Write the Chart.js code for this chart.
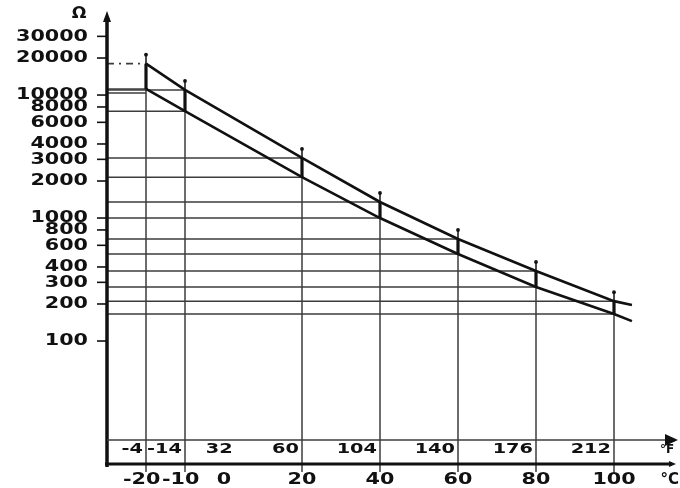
<!DOCTYPE html>
<html>
<head>
<meta charset="utf-8">
<script src="https://cdn.jsdelivr.net/npm/chart.js@4/dist/chart.umd.min.js"></script>
<style>
  html, body { margin: 0; padding: 0; background: #fff; }
  #wrap { width: 680px; height: 488px; }
</style>
</head>
<body>
<div id="wrap"><canvas id="c" width="680" height="488"></canvas></div>
<script>
// Temperature points (°C) and resistance tolerance band (Ω)
const tempC    = [-20, -10, 20, 40, 60, 80, 100];
const upperOhm = [18000, 11000, 3080, 1350, 675, 371, 211];
const lowerOhm = [11200, 7400, 2150, 1000, 510, 275, 166];
// curves run a little past the last point
const endC = 104.6;
const upperEndOhm = 196;
const lowerEndOhm = 145;
// extra reference level drawn at -20 °C
const extraLevelOhm = 10400;

// axis labels
const yTickValues = [30000, 20000, 10000, 8000, 6000, 4000, 3000, 2000, 1000, 800, 600, 400, 300, 200, 100];
const cTickLabels = [-20, -10, 0, 20, 40, 60, 80, 100];
const fTickLabels = ['-4', '-14', '32', '60', '104', '140', '176', '212'];
const fTickAnchorsC = [-20, -10, 3, 20, 40, 60, 80, 100];

const X_MIN = -30, X_MAX = 114;
const Y_MIN = 10, Y_MAX = 45600;

const INK = '#111';
const GUIDE = '#3c3c3c';
const FONT = 'bold 15px "DejaVu Sans", sans-serif';
const STRETCH = 1.38;

function seg(data, opts) {
  return Object.assign({
    data, showLine: true, borderColor: GUIDE, borderWidth: 1.5,
    pointRadius: 0, pointHoverRadius: 0, tension: 0, fill: false
  }, opts || {});
}

const datasets = [];
// band curves
datasets.push(seg(tempC.map((t, i) => ({x: t, y: upperOhm[i]})).concat([{x: endC, y: upperEndOhm}]),
  {borderColor: INK, borderWidth: 2.6}));
datasets.push(seg(tempC.map((t, i) => ({x: t, y: lowerOhm[i]})).concat([{x: endC, y: lowerEndOhm}]),
  {borderColor: INK, borderWidth: 2.6}));
// tolerance bars between the two curves
tempC.forEach((t, i) => {
  datasets.push(seg([{x: t, y: lowerOhm[i]}, {x: t, y: upperOhm[i]}], {borderColor: INK, borderWidth: 3.2}));
});
// horizontal reference lines from the Ω axis to each point
tempC.forEach((t, i) => {
  datasets.push(seg([{x: X_MIN, y: upperOhm[i]}, {x: t, y: upperOhm[i]}],
    i === 0 ? {borderDash: [7, 5, 2, 5], borderWidth: 1.6} : {}));
  datasets.push(seg([{x: X_MIN, y: lowerOhm[i]}, {x: t, y: lowerOhm[i]}]));
});
datasets.push(seg([{x: X_MIN, y: extraLevelOhm}, {x: tempC[0], y: extraLevelOhm}]));
// vertical reference lines from the temperature axis
tempC.forEach((t, i) => {
  datasets.push(seg([{x: t, y: Y_MIN}, {x: t, y: lowerOhm[i]}]));
});

function stretchText(ctx, text, x, y, align, sx) {
  ctx.save();
  ctx.translate(x, y);
  ctx.scale(sx, 1);
  ctx.textAlign = align;
  ctx.textBaseline = 'middle';
  ctx.fillText(text, 0, 0);
  ctx.restore();
}

const axesPlugin = {
  id: 'axesDecor',
  afterDatasetsDraw(chart) {
    const {ctx, chartArea: a, scales: {x, y}} = chart;
    ctx.save();
    ctx.strokeStyle = INK;
    ctx.fillStyle = INK;
    ctx.lineCap = 'butt';

    // caps above the tolerance bars
    tempC.forEach((t, i) => {
      const px = x.getPixelForValue(t);
      const pu = y.getPixelForValue(upperOhm[i]);
      ctx.lineWidth = 1.5;
      ctx.beginPath(); ctx.moveTo(px, pu); ctx.lineTo(px, pu - 9); ctx.stroke();
      ctx.beginPath(); ctx.arc(px, pu - 9, 1.9, 0, Math.PI * 2); ctx.fill();
      // tick below the °C axis
      ctx.strokeStyle = GUIDE;
      ctx.beginPath(); ctx.moveTo(px, a.bottom); ctx.lineTo(px, a.bottom + 8); ctx.stroke();
      ctx.strokeStyle = INK;
    });

    // Ω axis with arrow
    ctx.lineWidth = 3.5;
    ctx.beginPath(); ctx.moveTo(a.left, a.bottom + 3); ctx.lineTo(a.left, a.top + 4); ctx.stroke();
    ctx.beginPath();
    ctx.moveTo(a.left, a.top - 3);
    ctx.lineTo(a.left - 4, a.top + 8);
    ctx.lineTo(a.left + 4, a.top + 8);
    ctx.closePath(); ctx.fill();

    // °C axis
    const rightEnd = 672;
    ctx.lineWidth = 3;
    ctx.beginPath(); ctx.moveTo(a.left - 2, a.bottom); ctx.lineTo(rightEnd, a.bottom); ctx.stroke();
    ctx.beginPath();
    ctx.moveTo(rightEnd + 4, a.bottom);
    ctx.lineTo(rightEnd - 3, a.bottom - 3);
    ctx.lineTo(rightEnd - 3, a.bottom + 3);
    ctx.closePath(); ctx.fill();

    // °F scale line with arrow
    const fy = a.bottom - 24;
    ctx.lineWidth = 1.6;
    ctx.strokeStyle = GUIDE;
    ctx.beginPath(); ctx.moveTo(a.left, fy); ctx.lineTo(666, fy); ctx.stroke();
    ctx.beginPath();
    ctx.moveTo(678, fy);
    ctx.lineTo(665, fy - 6);
    ctx.lineTo(665, fy + 6);
    ctx.closePath(); ctx.fill();
    ctx.strokeStyle = INK;

    // Ω ticks and labels
    ctx.font = FONT;
    yTickValues.forEach(v => {
      const py = y.getPixelForValue(v);
      ctx.lineWidth = 1.6;
      ctx.beginPath(); ctx.moveTo(a.left - 10, py); ctx.lineTo(a.left, py); ctx.stroke();
      stretchText(ctx, String(v), a.left - 19, py + 0.5, 'right', STRETCH);
    });
    stretchText(ctx, 'Ω', 79, 14, 'center', 1.15);

    // °C labels: digits centred on the tick, minus sign in front
    const cy = a.bottom + 16;
    cTickLabels.forEach(t => {
      const px = x.getPixelForValue(t);
      const s = String(t);
      const digits = s.replace('-', '');
      const w = ctx.measureText(digits).width * STRETCH;
      stretchText(ctx, s, px + w / 2, cy, 'right', STRETCH);
    });
    ctx.font = 'bold 15px "DejaVu Sans", sans-serif';
    stretchText(ctx, '°C', 679, cy, 'right', 1.0);

    // °F labels sit just left of their temperature line
    ctx.font = 'bold 14px "DejaVu Sans", sans-serif';
    fTickLabels.forEach((s, i) => {
      const px = x.getPixelForValue(fTickAnchorsC[i]);
      stretchText(ctx, s, px - 3, fy + 9, 'right', STRETCH);
    });
    ctx.font = 'bold 12px "DejaVu Sans", sans-serif';
    stretchText(ctx, '°F', 667, fy + 10, 'center', 1.0);

    ctx.restore();
  }
};

new Chart(document.getElementById('c'), {
  type: 'scatter',
  data: { datasets },
  options: {
    responsive: false,
    animation: false,
    events: [],
    layout: { padding: { left: 107, top: 14, right: 11.4, bottom: 24 } },
    plugins: { legend: { display: false }, tooltip: { enabled: false } },
    scales: {
      x: { type: 'linear', min: X_MIN, max: X_MAX, display: false, bounds: 'data' },
      y: { type: 'logarithmic', min: Y_MIN, max: Y_MAX, display: false, bounds: 'data' }
    }
  },
  plugins: [axesPlugin]
});
</script>
</body>
</html>
